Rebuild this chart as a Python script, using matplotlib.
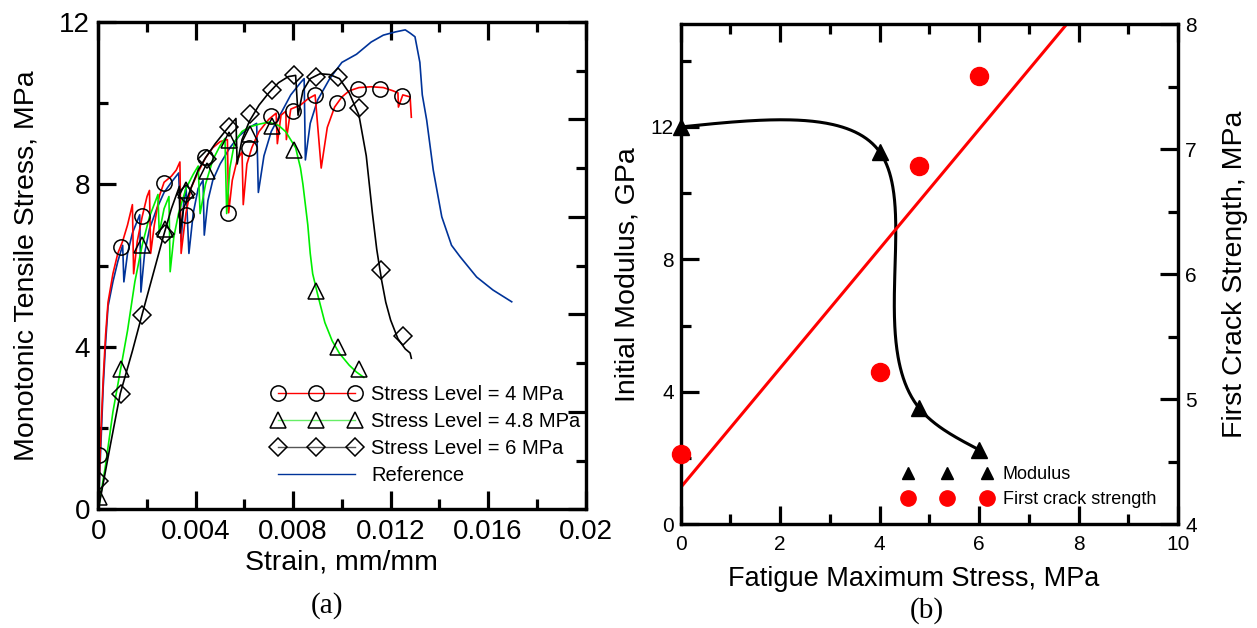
import numpy as np
import matplotlib
matplotlib.use('Agg')
import matplotlib.pyplot as plt
from matplotlib.lines import Line2D
from matplotlib.ticker import MultipleLocator, FixedLocator, FixedFormatter

plt.rcParams['font.family'] = ['Liberation Sans', 'DejaVu Sans']

# ---------------- panel (a) data: strain (mm/mm), stress (MPa) ----------------
red_strain = [0, 0.0001, 0.0002, 0.0003, 0.0004, 0.0006, 0.0008, 0.0010, 0.0012, 0.0014,
              0.00145, 0.0016, 0.0018, 0.0020, 0.0021,
              0.00215, 0.0023, 0.0025, 0.0027, 0.0030, 0.0032, 0.00335,
              0.0034, 0.0036, 0.0038, 0.0041, 0.0044, 0.0047, 0.0050, 0.0053,
              0.00535, 0.0055, 0.0057, 0.0059,
              0.00595, 0.0061, 0.0063, 0.0066, 0.0070, 0.0073,
              0.00735, 0.0075, 0.0077, 0.00772, 0.0079, 0.0083, 0.0086, 0.0089,
              0.00915, 0.0094, 0.0097, 0.0100, 0.0103, 0.0107, 0.0112, 0.0117,
              0.0121, 0.0123, 0.01232, 0.0125, 0.0128, 0.01285]
red_stress = [0, 1.8, 3.2, 4.3, 5.1, 5.8, 6.3, 6.6, 7.0, 7.5,
              5.8, 6.6, 7.2, 7.7, 7.85,
              6.3, 7.0, 7.7, 8.05, 8.2, 8.35, 8.55,
              6.3, 7.3, 7.9, 8.3, 8.65, 8.9, 9.05, 9.1,
              7.3, 8.1, 8.6, 8.8,
              7.5, 8.5, 8.9, 9.3, 9.6, 9.75,
              9.0, 9.7, 9.8, 9.1, 9.85, 9.95, 10.1, 10.2,
              8.4, 9.4, 9.9, 10.15, 10.3, 10.38, 10.4, 10.38,
              10.3, 10.25, 9.9, 10.2, 10.15, 9.65]
red_mark_strain = [0.00002, 0.00092, 0.00178, 0.0027, 0.00359, 0.0044, 0.00534, 0.0062,
                   0.0071, 0.0080, 0.00888, 0.0098, 0.01067, 0.01156, 0.01245]
red_mark_stress = [1.35, 6.47, 7.23, 8.04, 7.25, 8.67, 7.3, 8.9,
                   9.69, 9.81, 10.19, 10.0, 10.34, 10.35, 10.17]

green_strain = [0, 0.0003, 0.0006, 0.0009, 0.0012, 0.0015, 0.0018, 0.0021, 0.00245,
                0.0025, 0.0027, 0.0029,
                0.00295, 0.0031, 0.0033, 0.0036, 0.0039, 0.0041,
                0.00418, 0.0044, 0.0047, 0.0050, 0.0052,
                0.00527, 0.0054, 0.0056, 0.0059, 0.0062, 0.0066, 0.0070, 0.0074, 0.0077,
                0.0081, 0.0083, 0.0084, 0.0086, 0.0087, 0.0088, 0.0090, 0.0093, 0.0096,
                0.0099, 0.0103, 0.0106, 0.0109]
green_stress = [0, 1.1, 2.4, 3.4, 4.4, 5.6, 6.5, 7.2, 7.75,
                6.8, 7.4, 7.7,
                5.85, 6.7, 7.3, 7.9, 8.25, 8.45,
                7.28, 8.0, 8.6, 8.95, 9.13,
                7.28, 8.4, 9.05, 9.3, 9.41, 9.48, 9.53, 9.45, 9.29,
                8.9, 8.4, 8.0, 7.0, 6.3, 5.8, 5.3, 4.6, 4.15,
                3.84, 3.55, 3.38, 3.25]
green_mark_strain = [0.00003, 0.00093, 0.00179, 0.00272, 0.00361, 0.00446, 0.00537, 0.00623,
                     0.00713, 0.00804, 0.00892, 0.00983, 0.01071]
green_mark_stress = [0.3, 3.46, 6.5, 6.9, 7.87, 8.32, 9.1, 9.23,
                     9.43, 8.84, 5.37, 4.0, 3.46]

black_strain = [0, 0.0005, 0.0009, 0.0014, 0.0018, 0.0023, 0.0027, 0.0030, 0.00333,
                0.00335, 0.0035, 0.0038, 0.0041, 0.0044, 0.0048, 0.0052, 0.00565,
                0.0057, 0.0059, 0.0062, 0.0066, 0.0070, 0.0074, 0.0078, 0.0081,
                0.0082, 0.0084, 0.0087, 0.0091, 0.0095, 0.0099, 0.0103, 0.0107,
                0.0110, 0.01125, 0.01143, 0.01163, 0.0118, 0.0120, 0.0123, 0.0126,
                0.0128, 0.01285]
black_stress = [0, 1.6, 2.85, 3.9, 4.8, 5.9, 6.78, 7.4, 7.95,
                6.8, 7.4, 7.9, 8.35, 8.65, 9.0, 9.3, 9.62,
                8.5, 9.1, 9.55, 9.95, 10.25, 10.5, 10.65, 10.68,
                9.7, 10.3, 10.6, 10.72, 10.7, 10.6, 10.25, 9.7,
                8.7, 7.3, 6.4, 5.64, 5.1, 4.66, 4.2, 3.95,
                3.85, 3.72]
black_mark_strain = [0.00003, 0.00093, 0.00179, 0.00272, 0.00361, 0.00446, 0.00537, 0.00623,
                     0.00713, 0.00804, 0.00892, 0.00983, 0.01071, 0.0116, 0.0125]
black_mark_stress = [0.71, 2.85, 4.78, 6.78, 7.75, 8.63, 9.41, 9.73,
                     10.31, 10.7, 10.65, 10.63, 9.88, 5.9, 4.26]

blue_strain = [0, 0.0001, 0.0002, 0.0003, 0.0004, 0.0006, 0.0008, 0.0010,
               0.00105, 0.0012, 0.0014, 0.0016, 0.0017,
               0.00175, 0.0019, 0.0021, 0.0024, 0.0027, 0.0030, 0.0033,
               0.0034, 0.0035, 0.0036,
               0.00372, 0.0039, 0.0041, 0.0043,
               0.00435, 0.0045, 0.0047, 0.0050, 0.0054, 0.0058, 0.0062, 0.0065,
               0.00657, 0.0068, 0.0071, 0.0075, 0.0079, 0.0083, 0.00845,
               0.0085, 0.0087, 0.0090, 0.0095, 0.0100, 0.0106, 0.0112, 0.0117, 0.0122,
               0.0126, 0.0128, 0.0130, 0.0132, 0.0133, 0.01348, 0.01375, 0.0141,
               0.0145, 0.01485, 0.01553, 0.0162, 0.01697]
blue_stress = [0, 1.5, 3.0, 4.1, 5.0, 5.6, 6.1, 6.5,
               5.6, 6.3, 6.8, 7.1, 7.25,
               5.35, 6.3, 6.9, 7.4, 7.8, 8.05, 8.28,
               6.6, 7.5, 7.95,
               6.3, 7.3, 7.9, 8.1,
               6.75, 7.6, 8.1, 8.5, 8.9, 9.2, 9.4, 9.5,
               7.8, 8.7, 9.3, 9.75, 10.2, 10.5, 10.6,
               8.6, 9.5, 10.07, 10.6, 11.0, 11.2, 11.5, 11.67, 11.75,
               11.8, 11.72, 11.63, 11.0, 10.2, 9.58, 8.35, 7.2,
               6.5, 6.22, 5.72, 5.4, 5.11]

series_labels = ['Stress Level = 4 MPa', 'Stress Level = 4.8 MPa',
                 'Stress Level = 6 MPa', 'Reference']
strain_ticks = [0, 0.004, 0.008, 0.012, 0.016, 0.02]
strain_ticklabels = ['0', '0.004', '0.008', '0.012', '0.016', '0.02']

# ---------------- panel (b) data ----------------
fatigue_stress = [0, 4, 4.8, 6]
modulus = [12.0, 11.25, 3.5, 2.25]
first_crack = [4.566, 5.22, 6.87, 7.59]


def natural_spline(t, v, tt):
    # natural cubic spline through (t, v), evaluated at tt
    t = np.asarray(t, float)
    v = np.asarray(v, float)
    n = len(t)
    h = np.diff(t)
    A = np.zeros((n, n))
    r = np.zeros(n)
    A[0, 0] = A[-1, -1] = 1
    for i in range(1, n - 1):
        A[i, i - 1] = h[i - 1]
        A[i, i] = 2 * (h[i - 1] + h[i])
        A[i, i + 1] = h[i]
        r[i] = 6 * ((v[i + 1] - v[i]) / h[i] - (v[i] - v[i - 1]) / h[i - 1])
    M = np.linalg.solve(A, r)
    out = np.empty_like(tt)
    for k, x in enumerate(tt):
        i = min(np.searchsorted(t, x, side='right') - 1, n - 2)
        u = x - t[i]
        hi = h[i]
        s = (v[i + 1] - v[i]) / hi - hi * (2 * M[i] + M[i + 1]) / 6
        out[k] = v[i] + s * u + M[i] * u ** 2 / 2 + (M[i + 1] - M[i]) / (6 * hi) * u ** 3
    return out


fig = plt.figure(figsize=(12.57, 6.28), dpi=100)
ax1 = fig.add_axes([0.0782, 0.1887, 0.3876, 0.7767])
ax2 = fig.add_axes([0.5415, 0.1651, 0.3957, 0.7962])

SPW = 2.3

# ---------------- panel (a) ----------------
ax1.plot(blue_strain, blue_stress, color='#003399', lw=1.2, zorder=2)
ax1.plot(red_strain, red_stress, color='#ff0000', lw=1.2, zorder=3)
ax1.plot(green_strain, green_stress, color='#00ee00', lw=1.2, zorder=3)
ax1.plot(black_strain, black_stress, color='black', lw=1.2, zorder=3)
ax1.plot(red_mark_strain, red_mark_stress, ls='none', marker='o', ms=11,
         mfc='none', mec='black', mew=1.1, zorder=4)
ax1.plot(green_mark_strain, green_mark_stress, ls='none', marker='^', ms=11,
         mfc='none', mec='black', mew=1.1, zorder=4)
ax1.plot(black_mark_strain, black_mark_stress, ls='none', marker='D', ms=9,
         mfc='none', mec='black', mew=1.1, zorder=4)

ax1.set_xlim(0, 0.02)
ax1.set_ylim(0, 12)
ax1.xaxis.set_major_locator(FixedLocator(strain_ticks))
ax1.xaxis.set_major_formatter(FixedFormatter(strain_ticklabels))
ax1.xaxis.set_minor_locator(MultipleLocator(0.002))
ax1.yaxis.set_major_locator(MultipleLocator(4))
ax1.yaxis.set_minor_locator(MultipleLocator(2))
ax1.tick_params(which='both', direction='in', width=SPW, top=True, right=False,
                labelsize=20)
ax1.tick_params(which='major', length=13)
ax1.tick_params(which='minor', length=7)
ax1.tick_params(axis='x', pad=7)
ax1.tick_params(axis='y', pad=6)
for sp in ax1.spines.values():
    sp.set_linewidth(SPW)
ax1.set_xlabel('Strain, mm/mm', fontsize=20.5, labelpad=3)
ax1.set_ylabel('Monotonic Tensile Stress, MPa', fontsize=20.5, labelpad=14)

ax1r = ax1.twinx()
ax1r.set_ylim(0, 10)
ax1r.yaxis.set_major_locator(MultipleLocator(2))
ax1r.yaxis.set_minor_locator(MultipleLocator(1))
ax1r.tick_params(which='both', direction='in', width=SPW, labelright=False)
ax1r.tick_params(which='major', length=13)
ax1r.tick_params(which='minor', length=7)
for sp in ax1r.spines.values():
    sp.set_linewidth(SPW)

handles = [
    Line2D([], [], color='#ff0000', lw=1, marker='o', ms=11, mfc='none', mec='black', mew=1.1),
    Line2D([], [], color='#66ee66', lw=1, marker='^', ms=11, mfc='none', mec='black', mew=1.1),
    Line2D([], [], color='#555555', lw=1, marker='D', ms=9, mfc='none', mec='black', mew=1.1),
    Line2D([], [], color='#003399', lw=1),
]
ax1.legend(handles, series_labels, loc='upper left', bbox_to_anchor=(0.356, 0.2545),
           frameon=False, numpoints=3, fontsize=14.5, handlelength=4.43,
           handletextpad=0.5, labelspacing=0.39, borderpad=0, borderaxespad=0)

# ---------------- panel (b) ----------------
ax2r = ax2.twinx()
ax2.set_xlim(0, 10)
ax2.set_ylim(0, 15.1)
ax2r.set_ylim(4, 8)

# smooth curve through modulus points (parametric natural spline, screen-scaled)
sx = np.array(fatigue_stress) / 10.0
sy = np.array(modulus) / 15.1
chord = np.concatenate([[0], np.cumsum(np.hypot(np.diff(sx), np.diff(sy)))])
tt = np.linspace(0, chord[-1], 300)
cx = natural_spline(chord, fatigue_stress, tt)
cy = natural_spline(chord, modulus, tt)
ax2.plot(cx, cy, color='black', lw=2.2, zorder=3)
ax2.plot(fatigue_stress, modulus, ls='none', marker='^', ms=12, color='black',
         clip_on=False, zorder=4)

fit = np.polyfit(fatigue_stress, first_crack, 1)
fx = np.array([0, 10])
ax2r.plot(fx, np.polyval(fit, fx), color='#ff0000', lw=2.2, zorder=2)
ax2r.plot(fatigue_stress, first_crack, ls='none', marker='o', ms=13,
          color='#ff0000', clip_on=False, zorder=4)

ax2.xaxis.set_major_locator(MultipleLocator(2))
ax2.xaxis.set_minor_locator(MultipleLocator(1))
ax2.yaxis.set_major_locator(MultipleLocator(4))
ax2.yaxis.set_minor_locator(MultipleLocator(2))
ax2r.yaxis.set_major_locator(MultipleLocator(1))
ax2r.yaxis.set_minor_locator(MultipleLocator(0.5))
for a in (ax2, ax2r):
    a.tick_params(which='both', direction='in', width=SPW, labelsize=15)
    a.tick_params(which='major', length=13)
    a.tick_params(which='minor', length=7)
    for sp in a.spines.values():
        sp.set_linewidth(SPW)
ax2.tick_params(which='both', top=True, right=False)
ax2.tick_params(axis='x', pad=8)
ax2.tick_params(axis='y', pad=5)
ax2r.tick_params(axis='y', pad=5)
ax2.set_xlabel('Fatigue Maximum Stress, MPa', fontsize=19.5, labelpad=8.5)
ax2.xaxis.label.set_x(0.468)
ax2.set_ylabel('Initial Modulus, GPa', fontsize=20.5, labelpad=7.5)
ax2r.set_ylabel('First Crack Strength, MPa', fontsize=20.5, labelpad=18)

h2 = [Line2D([], [], ls='none', marker='^', ms=9, color='black'),
      Line2D([], [], ls='none', marker='o', ms=11, color='#ff0000')]
ax2r.legend(h2, ['Modulus', 'First crack strength'], loc='upper left',
            bbox_to_anchor=(0.446, 0.116), frameon=False, numpoints=3, fontsize=13,
            handlelength=4.97, handletextpad=0.59, labelspacing=0.44,
            borderpad=0, borderaxespad=0)

fig.text(0.2598, 0.035, '(a)', fontsize=21, family='Liberation Serif', ha='center', va='center')
fig.text(0.737, 0.028, '(b)', fontsize=21, family='Liberation Serif', ha='center', va='center')

fig.savefig('out.png', dpi=100)
